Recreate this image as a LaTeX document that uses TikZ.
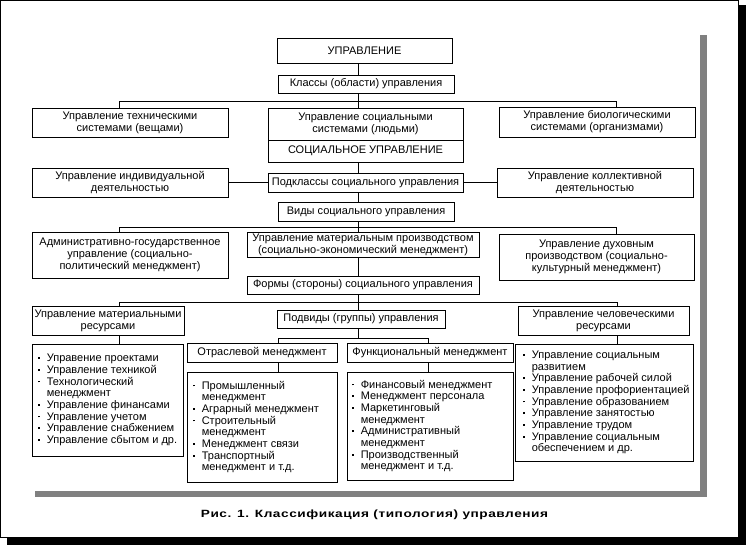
\documentclass[tikz,border=0pt]{standalone}
\usepackage{fontspec}
\setmainfont{Liberation Sans}
\newfontfamily\capfont[LetterSpace=4]{Liberation Sans}
\usetikzlibrary{calc}
\definecolor{dith}{gray}{0.5}
\newcommand\fs{\fontsize{11}{12}\selectfont}
\newcommand\lfs{\fontsize{11}{11.7}\selectfont}
\newcommand\bul{\makebox[9pt][l]{\raisebox{2.7pt}{\rule{1.8pt}{1.8pt}}}}
\newcommand\ind{\hspace*{9pt}}
\tikzset{
  x=1pt, y=-1pt,
  bx/.style={draw, line width=0.8pt, inner sep=0pt, align=center, font=\fs},
  ln/.style={line width=0.8pt},
  lt/.style={anchor=west, align=left, inner sep=0pt, font=\lfs},
}
\newcommand\boxat[6]{\node[bx, minimum width={#4-#2}, minimum height={#5-#3}] (#1) at ({(#2+#4)/2},{(#3+#5)/2}) {#6};}
\begin{document}
\begin{tikzpicture}
\useasboundingbox (0,0) rectangle (746,545);
% frame and shadows
\fill[black] (738,5) rectangle (746,545);
\fill[black] (7,537) rectangle (746,545);
\draw[line width=1pt] (0.5,0.5) rectangle (738,537);
\fill[dith] (700,35) rectangle (707,497);
\fill[dith] (35,491) rectangle (707,497);

\coordinate (spine) at (358,0);
\coordinate (lft) at (119,0);
\coordinate (rgt) at (616,0);
\coordinate (rgt2) at (617,0);
\coordinate (ol) at (278,0);
\coordinate (fr) at (428,0);

% boxes
\boxat{top}{277}{38}{452}{63}{УПРАВЛЕНИЕ}
\boxat{cls}{278}{75}{454}{93}{Классы (области) управления}
\boxat{tech}{32}{108}{228}{137}{Управление техническими\\системами (вещами)}
\boxat{soc}{268}{108}{463}{140}{Управление социальными\\системами (людьми)}
\boxat{socu}{268}{140}{463}{162}{СОЦИАЛЬНОЕ УПРАВЛЕНИЕ}
\boxat{bio}{499}{107}{695}{137}{Управление биологическими\\системами (организмами)}
\boxat{ind}{32}{168}{228}{197}{Управление индивидуальной\\деятельностью}
\boxat{sub}{268}{173}{463}{192}{Подклассы социального управления}
\boxat{col}{497}{168}{693}{197}{Управление коллективной\\деятельностью}
\boxat{vid}{278}{202}{454}{221}{Виды социального управления}
\boxat{adm}{32}{232}{228}{278}{Административно-государственное\\управление (социально-\\политический менеджмент)}
\boxat{mat}{247}{232}{479}{257}{Управление материальным производством\\(социально-экономический менеджмент)}
\boxat{spi}{499}{234}{694}{280}{Управление духовным\\производством (социально-\\культурный менеджмент)}
\boxat{frm}{247}{276}{479}{294}{Формы (стороны) социального управления}
\boxat{mres}{32}{306}{184}{335}{Управление материальными\\ресурсами}
\boxat{pod}{277}{310}{445}{328}{Подвиды (группы) управления}
\boxat{hres}{518}{306}{689}{335}{Управление человеческими\\ресурсами}
\boxat{otr}{187}{343}{337}{362}{Отраслевой менеджмент}
\boxat{fun}{347}{343}{513}{362}{Функциональный менеджмент}
\boxat{mlist}{32}{344}{183}{456}{}
\boxat{olist}{187}{372}{337}{482}{}
\boxat{flist}{347}{372}{513}{480}{}
\boxat{hlist}{515}{344}{693}{461}{}

% list texts
\node[lt, xshift=6pt] (mlistT) at (mlist.west) {\bul Управение проектами\\\bul Управление техникой\\\bul Технологический\\\ind менеджмент\\\bul Управление финансами\\\bul Управление учетом\\\bul Управление снабжением\\\bul Управление сбытом и др.};
\node[lt, xshift=6pt] (olistT) at (olist.west) {\bul Промышленный\\\ind менеджмент\\\bul Аграрный менеджмент\\\bul Строительный\\\ind менеджмент\\\bul Менеджмент связи\\\bul Транспортный\\\ind менеджмент и т.д.};
\node[lt, xshift=5pt] (flistT) at (flist.west) {\bul Финансовый менеджмент\\\bul Менеджмент персонала\\\bul Маркетинговый\\\ind менеджмент\\\bul Административный\\\ind менеджмент\\\bul Производственный\\\ind менеджмент и т.д.};
\node[lt, xshift=8pt] (hlistT) at (hlist.west) {\bul Управление социальным\\\ind развитием\\\bul Управление рабочей силой\\\bul Управление профориентацией\\\bul Управление образованием\\\bul Управление занятостью\\\bul Управление трудом\\\bul Управление социальным\\\ind обеспечением и др.};

% connectors
\coordinate (bus1) at (358,101);
\coordinate (bus2) at (358,227);
\coordinate (bus3) at (358,302);
\coordinate (bus4) at (358,338);
\draw[ln] (top.south -| spine) -- (cls.north -| spine);
\draw[ln] (cls.south -| spine) -- (soc.north -| spine);
\draw[ln] (tech.north -| lft) -- (lft |- bus1) -- (rgt |- bus1) -- (bio.north -| rgt);
\draw[ln] (socu.south -| spine) -- (sub.north -| spine);
\draw[ln] (ind.east |- sub.west) -- (sub.west);
\draw[ln] (sub.east) -- (col.west |- sub.east);
\draw[ln] (sub.south -| spine) -- (vid.north -| spine);
\draw[ln] (vid.south -| spine) -- (mat.north -| spine);
\draw[ln] (adm.north -| lft) -- (lft |- bus2) -- (rgt |- bus2) -- (spi.north -| rgt);
\draw[ln] (mat.south -| spine) -- (frm.north -| spine);
\draw[ln] (frm.south -| spine) -- (pod.north -| spine);
\draw[ln] (mres.north -| lft) -- (lft |- bus3) -- (rgt2 |- bus3) -- (hres.north -| rgt2);
\draw[ln] (mres.south -| lft) -- (mlist.north -| lft);
\draw[ln] (hres.south -| rgt2) -- (hlist.north -| rgt2);
\draw[ln] (pod.south -| spine) -- (bus4);
\draw[ln] (otr.north -| ol) -- (ol |- bus4) -- (fr |- bus4) -- (fun.north -| fr);
\draw[ln] (otr.south -| ol) -- (olist.north -| ol);
\draw[ln] (fun.south -| fr) -- (flist.north -| fr);

% caption
\node[anchor=base, inner sep=0pt] (cap) at (374.5,517.5) {\capfont\bfseries\fontsize{10.5}{12}\selectfont\scalebox{1.3}[1]{Рис. 1. Классификация (типология) управления}};
\end{tikzpicture}
\end{document}
